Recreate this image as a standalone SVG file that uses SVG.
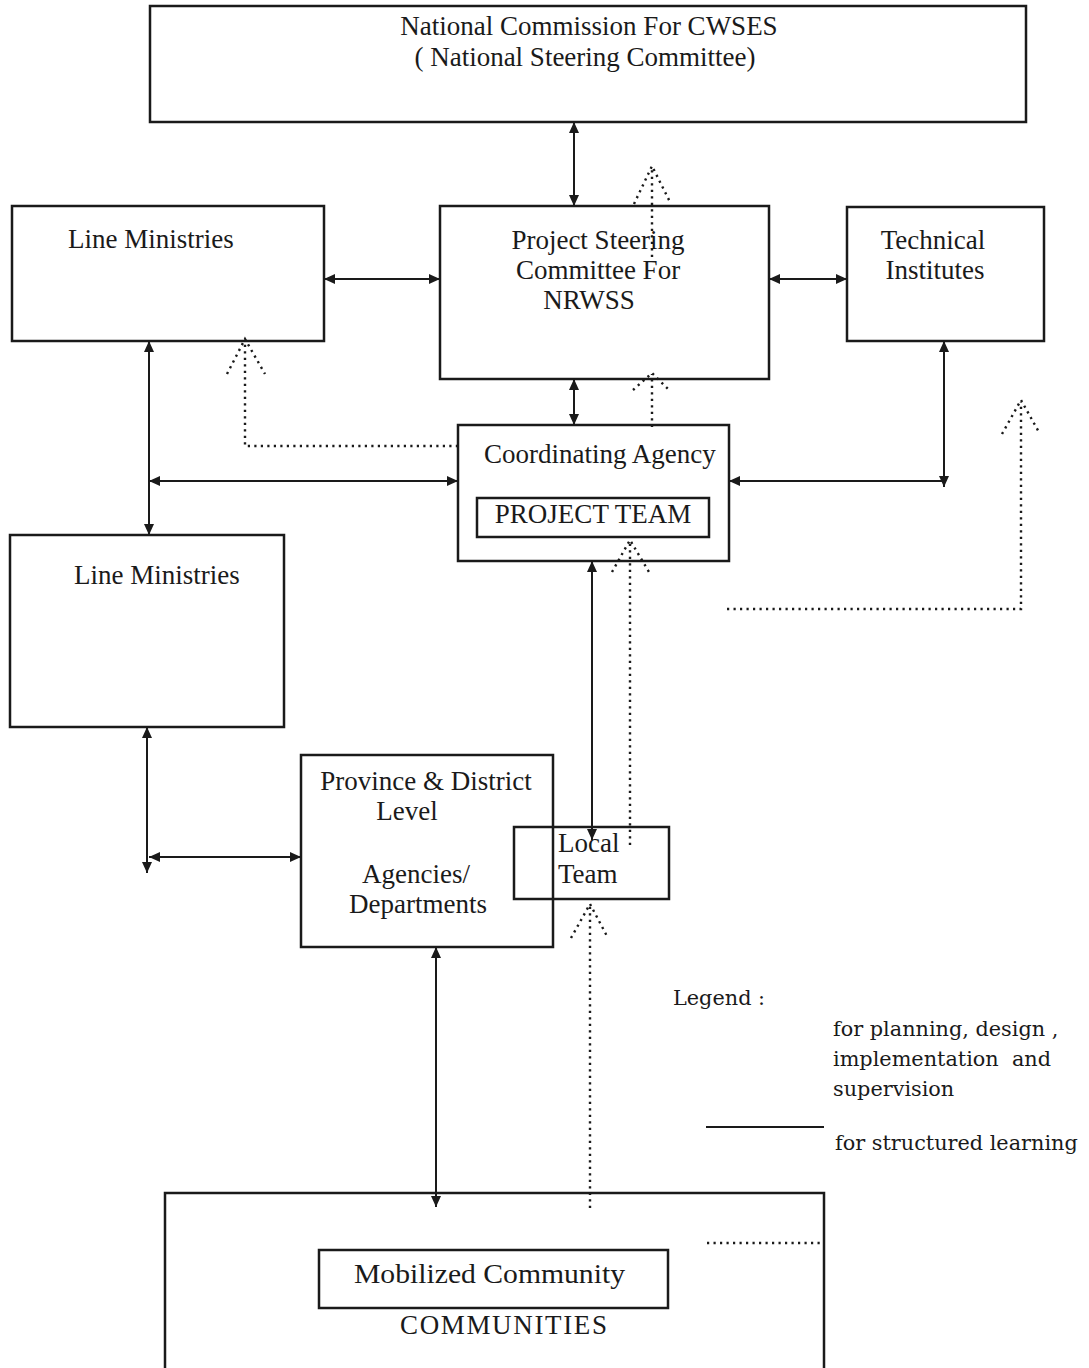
<svg xmlns="http://www.w3.org/2000/svg" width="1089" height="1368" viewBox="0 0 1089 1368">
<style>
.box{fill:#fff;stroke:#1a1a1a;stroke-width:2.5}
.t{font-family:"Liberation Serif","Times New Roman",serif;font-size:27px;fill:#1a1a1a}
.c{text-anchor:middle}
.lg{font-family:"DejaVu Serif","Liberation Serif",serif;font-size:20.8px;fill:#1a1a1a}
.s{fill:none;stroke:#1a1a1a;stroke-width:2}
.d{fill:none;stroke:#1a1a1a;stroke-width:2.4;stroke-dasharray:2.2 4.3}
</style>
<defs>
<marker id="ah" markerUnits="userSpaceOnUse" markerWidth="12" markerHeight="10" refX="11" refY="5" orient="auto-start-reverse">
<path d="M0,0 L11,5 L0,10 z" fill="#1a1a1a"/>
</marker>
</defs>
<rect width="1089" height="1368" fill="#fff"/>
<g id="national">
<rect class="box" x="150" y="6" width="876" height="116"/>
<text class="t c" x="589" y="35" font-size="27.5">National Commission For CWSES</text>
<text class="t c" x="585" y="66" font-size="27.5">( National Steering Committee)</text>
</g>
<g id="line-ministries-1">
<rect class="box" x="12" y="206" width="312" height="135"/>
<text class="t" x="68" y="248">Line Ministries</text>
</g>
<g id="psc">
<rect class="box" x="440" y="206" width="329" height="173"/>
<text class="t c" x="598" y="249">Project Steering</text>
<text class="t c" x="598" y="279">Committee For</text>
<text class="t c" x="589" y="309">NRWSS</text>
</g>
<g id="technical">
<rect class="box" x="847" y="207" width="197" height="134"/>
<text class="t c" x="933" y="249">Technical</text>
<text class="t c" x="935" y="279">Institutes</text>
</g>
<g id="coordinating">
<rect class="box" x="458" y="425" width="271" height="136"/>
<text class="t" x="484" y="463">Coordinating Agency</text>
<rect class="box" x="477" y="498" width="232" height="39"/>
<text class="t c" x="593" y="523" font-size="26.5">PROJECT TEAM</text>
</g>
<g id="line-ministries-2">
<rect class="box" x="10" y="535" width="274" height="192"/>
<text class="t" x="74" y="584">Line Ministries</text>
</g>
<g id="province">
<rect class="box" x="301" y="755" width="252" height="192"/>
<text class="t c" x="426" y="790">Province &amp; District</text>
<text class="t c" x="407" y="820">Level</text>
<text class="t c" x="416" y="883">Agencies/</text>
<text class="t c" x="418" y="913">Departments</text>
</g>
<g id="local-team">
<rect x="514" y="827" width="155" height="72" fill="none" stroke="#1a1a1a" stroke-width="2.5"/>
<text class="t" x="558" y="852">Local</text>
<text class="t" x="558" y="883">Team</text>
</g>
<g id="communities">
<rect class="box" x="165" y="1193" width="659" height="190"/>
<rect class="box" x="319" y="1250" width="349" height="58"/>
<text class="t" x="354" y="1283" font-size="31" textLength="271" lengthAdjust="spacingAndGlyphs">Mobilized Community</text>
<text class="t" x="400" y="1334" font-size="17" textLength="207" lengthAdjust="spacing">COMMUNITIES</text>
</g>
<g id="connectors">
<line class="s" x1="574" y1="122" x2="574" y2="206" marker-start="url(#ah)" marker-end="url(#ah)"/>
<line class="s" x1="324" y1="279" x2="440" y2="279" marker-start="url(#ah)" marker-end="url(#ah)"/>
<line class="s" x1="769" y1="279" x2="847" y2="279" marker-start="url(#ah)" marker-end="url(#ah)"/>
<line class="s" x1="574" y1="379" x2="574" y2="425" marker-start="url(#ah)" marker-end="url(#ah)"/>
<line class="s" x1="149" y1="341" x2="149" y2="535" marker-start="url(#ah)" marker-end="url(#ah)"/>
<line class="s" x1="149" y1="481" x2="458" y2="481" marker-start="url(#ah)" marker-end="url(#ah)"/>
<line class="s" x1="944" y1="341" x2="944" y2="487" marker-start="url(#ah)" marker-end="url(#ah)"/>
<line class="s" x1="944" y1="481" x2="729" y2="481" marker-end="url(#ah)"/>
<line class="s" x1="147" y1="727" x2="147" y2="873" marker-start="url(#ah)" marker-end="url(#ah)"/>
<line class="s" x1="149" y1="857" x2="301" y2="857" marker-start="url(#ah)" marker-end="url(#ah)"/>
<line class="s" x1="592" y1="561" x2="592" y2="840" marker-start="url(#ah)" marker-end="url(#ah)"/>
<line class="s" x1="436" y1="947" x2="436" y2="1207" marker-start="url(#ah)" marker-end="url(#ah)"/>
<line class="d" x1="652" y1="257" x2="652" y2="167"/>
<polyline class="d" points="634,204 652,166 671,204"/>
<line class="d" x1="652" y1="427" x2="652" y2="374"/>
<polyline class="d" points="633,390 652,373 669,390"/>
<polyline class="d" points="458,446 245,446 245,340"/>
<polyline class="d" points="227,374 245,339 265,374"/>
<line class="d" x1="630" y1="845" x2="630" y2="541"/>
<polyline class="d" points="612,572 630,540 649,572"/>
<line class="d" x1="590" y1="1208" x2="590" y2="905"/>
<polyline class="d" points="571,938 590,904 608,938"/>
<polyline class="d" points="727,609 1021,609 1021,402"/>
<polyline class="d" points="1002,434 1021,400 1040,434"/>
</g>
<g id="legend">
<text class="lg" x="673" y="1005">Legend :</text>
<text class="lg" x="833" y="1036">for planning, design ,</text>
<text class="lg" x="833" y="1066" xml:space="preserve">implementation  and</text>
<text class="lg" x="833" y="1096">supervision</text>
<line class="s" x1="706" y1="1127" x2="824" y2="1127"/>
<text class="lg" x="835" y="1150">for structured learning</text>
<line class="d" x1="707" y1="1243" x2="820" y2="1243"/>
</g>
</svg>
